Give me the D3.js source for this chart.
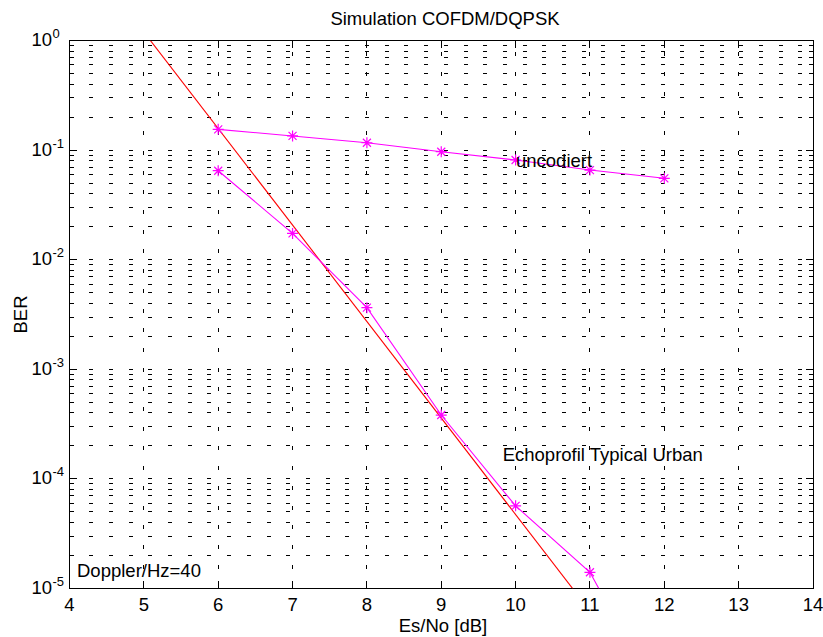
<!DOCTYPE html>
<html>
<head>
<meta charset="utf-8">
<script src="https://cdn.jsdelivr.net/npm/d3@7"></script>
<style>
  body { margin: 0; background: #fff; }
  svg text { font-family: "Liberation Sans", Arial, Helvetica, sans-serif; fill: #000; }
</style>
</head>
<body>
<div class="visHolder"></div>
<script>
// Es/No values in dB
var esNo = [6, 7, 8, 9, 10, 11, 12];
// BER, uncoded transmission
var berUncoded = [0.155, 0.135, 0.117, 0.0969, 0.0814, 0.0659, 0.0554];
// BER, coded transmission (last point falls below the axis)
var berCoded = [0.065, 0.0174, 0.00365, 0.000382, 0.0000566, 0.000014, 0.0000008];
// straight reference line
var refEsNo = [5, 11];
var refBer = [1.2, 0.0000062];

var xTicks = [4, 5, 6, 7, 8, 9, 10, 11, 12, 13, 14];
var yTickExp = [0, -1, -2, -3, -4, -5];

var width = 823,
    height = 637,
    plotLeft = 69.5,
    plotRight = 813,
    plotTop = 40.7,
    plotBottom = 588.3,
    fontSize = "18.5px";

var svg = d3
    .select(".visHolder")
    .append("svg")
    .attr("width", width)
    .attr("height", height);

var x = d3.scaleLinear().domain([4, 14]).range([plotLeft, plotRight]);
var y = d3.scaleLog().domain([1e-5, 1]).range([plotBottom, plotTop]);

svg.append("defs")
    .append("clipPath")
    .attr("id", "plotClip")
    .append("rect")
    .attr("x", plotLeft)
    .attr("y", plotTop)
    .attr("width", plotRight - plotLeft)
    .attr("height", plotBottom - plotTop);

// minor values for the log grid: 2..9 times every decade
var minorVals = [];
yTickExp.forEach(function (e) {
    if (e === 0) return;
    for (var k = 2; k <= 9; k++) {
        minorVals.push(k * Math.pow(10, e));
    }
});

var grid = svg.append("g").attr("class", "grid")
    .attr("stroke", "#000")
    .attr("stroke-width", 1)
    .attr("stroke-dasharray", "4,15.7")
    .attr("shape-rendering", "crispEdges");

grid.selectAll("line.h")
    .data(minorVals.concat(yTickExp.slice(1, 5).map(function (e) { return Math.pow(10, e); })))
    .enter()
    .append("line")
    .attr("class", "h")
    .attr("x1", plotLeft)
    .attr("x2", plotRight)
    .attr("y1", function (d) { return y(d); })
    .attr("y2", function (d) { return y(d); });

grid.selectAll("line.v")
    .data(xTicks.slice(1, xTicks.length - 1))
    .enter()
    .append("line")
    .attr("class", "v")
    .attr("x1", function (d) { return x(d); })
    .attr("x2", function (d) { return x(d); })
    .attr("y1", plotBottom)
    .attr("y2", plotTop);

// axis box with ticks on all four sides
var axes = svg.append("g")
    .attr("stroke", "#000")
    .attr("stroke-width", 1)
    .attr("fill", "none")
    .attr("shape-rendering", "crispEdges");

axes.append("rect")
    .attr("x", plotLeft)
    .attr("y", plotTop)
    .attr("width", plotRight - plotLeft)
    .attr("height", plotBottom - plotTop);

axes.selectAll("path.xt")
    .data(xTicks)
    .enter()
    .append("path")
    .attr("class", "xt")
    .attr("d", function (d) {
        return "M" + x(d) + "," + plotBottom + "v-7M" + x(d) + "," + plotTop + "v7";
    });

axes.selectAll("path.ymaj")
    .data(yTickExp)
    .enter()
    .append("path")
    .attr("class", "ymaj")
    .attr("d", function (d) {
        var p = y(Math.pow(10, d));
        return "M" + plotLeft + "," + p + "h7M" + plotRight + "," + p + "h-7";
    });

axes.selectAll("path.ymin")
    .data(minorVals)
    .enter()
    .append("path")
    .attr("class", "ymin")
    .attr("d", function (d) {
        var p = y(d);
        return "M" + plotLeft + "," + p + "h4M" + plotRight + "," + p + "h-4";
    });

// tick labels
svg.selectAll("text.xl")
    .data(xTicks)
    .enter()
    .append("text")
    .attr("class", "xl")
    .attr("x", function (d) { return x(d); })
    .attr("y", 611)
    .attr("text-anchor", "middle")
    .style("font-size", fontSize)
    .text(function (d) { return d; });

var yl = svg.selectAll("g.yl")
    .data(yTickExp)
    .enter()
    .append("g")
    .attr("class", "yl")
    .attr("transform", function (d) { return "translate(52," + y(Math.pow(10, d)) + ")"; });

yl.append("text")
    .attr("y", 5.5)
    .attr("text-anchor", "end")
    .style("font-size", fontSize)
    .text("10");

yl.append("text")
    .attr("x", 0.5)
    .attr("y", -2.5)
    .style("font-size", "13px")
    .text(function (d) { return d; });

// data lines
var line = d3.line()
    .x(function (d) { return x(d[0]); })
    .y(function (d) { return y(d[1]); });

var plot = svg.append("g").attr("clip-path", "url(#plotClip)");

plot.append("path")
    .datum(d3.zip(refEsNo, refBer))
    .attr("d", line)
    .attr("fill", "none")
    .attr("stroke", "#ff0000")
    .attr("stroke-width", 1.1);

[berUncoded, berCoded].forEach(function (series) {
    var pts = d3.zip(esNo, series);
    plot.append("path")
        .datum(pts)
        .attr("d", line)
        .attr("fill", "none")
        .attr("stroke", "#ff00ff")
        .attr("stroke-width", 1.1);

    plot.selectAll(null)
        .data(pts.filter(function (d) { return d[1] >= 1e-5; }))
        .enter()
        .append("path")
        .attr("transform", function (d) { return "translate(" + x(d[0]) + "," + y(d[1]) + ")"; })
        .attr("d", "M-5.5,0H5.5M0,-5.5V5.5M-4,-4L4,4M-4,4L4,-4")
        .attr("fill", "none")
        .attr("stroke", "#ff00ff")
        .attr("stroke-width", 1.2);
});

// titles and annotations
svg.append("text")
    .attr("x", 445)
    .attr("y", 25)
    .attr("text-anchor", "middle")
    .style("font-size", fontSize)
    .text("Simulation COFDM/DQPSK");

svg.append("text")
    .attr("x", 443)
    .attr("y", 632)
    .attr("text-anchor", "middle")
    .style("font-size", fontSize)
    .text("Es/No [dB]");

svg.append("text")
    .attr("transform", "translate(27," + (plotTop + plotBottom) / 2 + ") rotate(-90)")
    .attr("text-anchor", "middle")
    .style("font-size", fontSize)
    .text("BER");

svg.append("text")
    .attr("x", 516)
    .attr("y", 166.7)
    .style("font-size", fontSize)
    .text("uncodiert");

svg.append("text")
    .attr("x", 502.7)
    .attr("y", 461)
    .style("font-size", fontSize)
    .text("Echoprofil Typical Urban");

svg.append("text")
    .attr("x", 77)
    .attr("y", 577)
    .style("font-size", fontSize)
    .text("Doppler/Hz=40");
</script>
</body>
</html>
